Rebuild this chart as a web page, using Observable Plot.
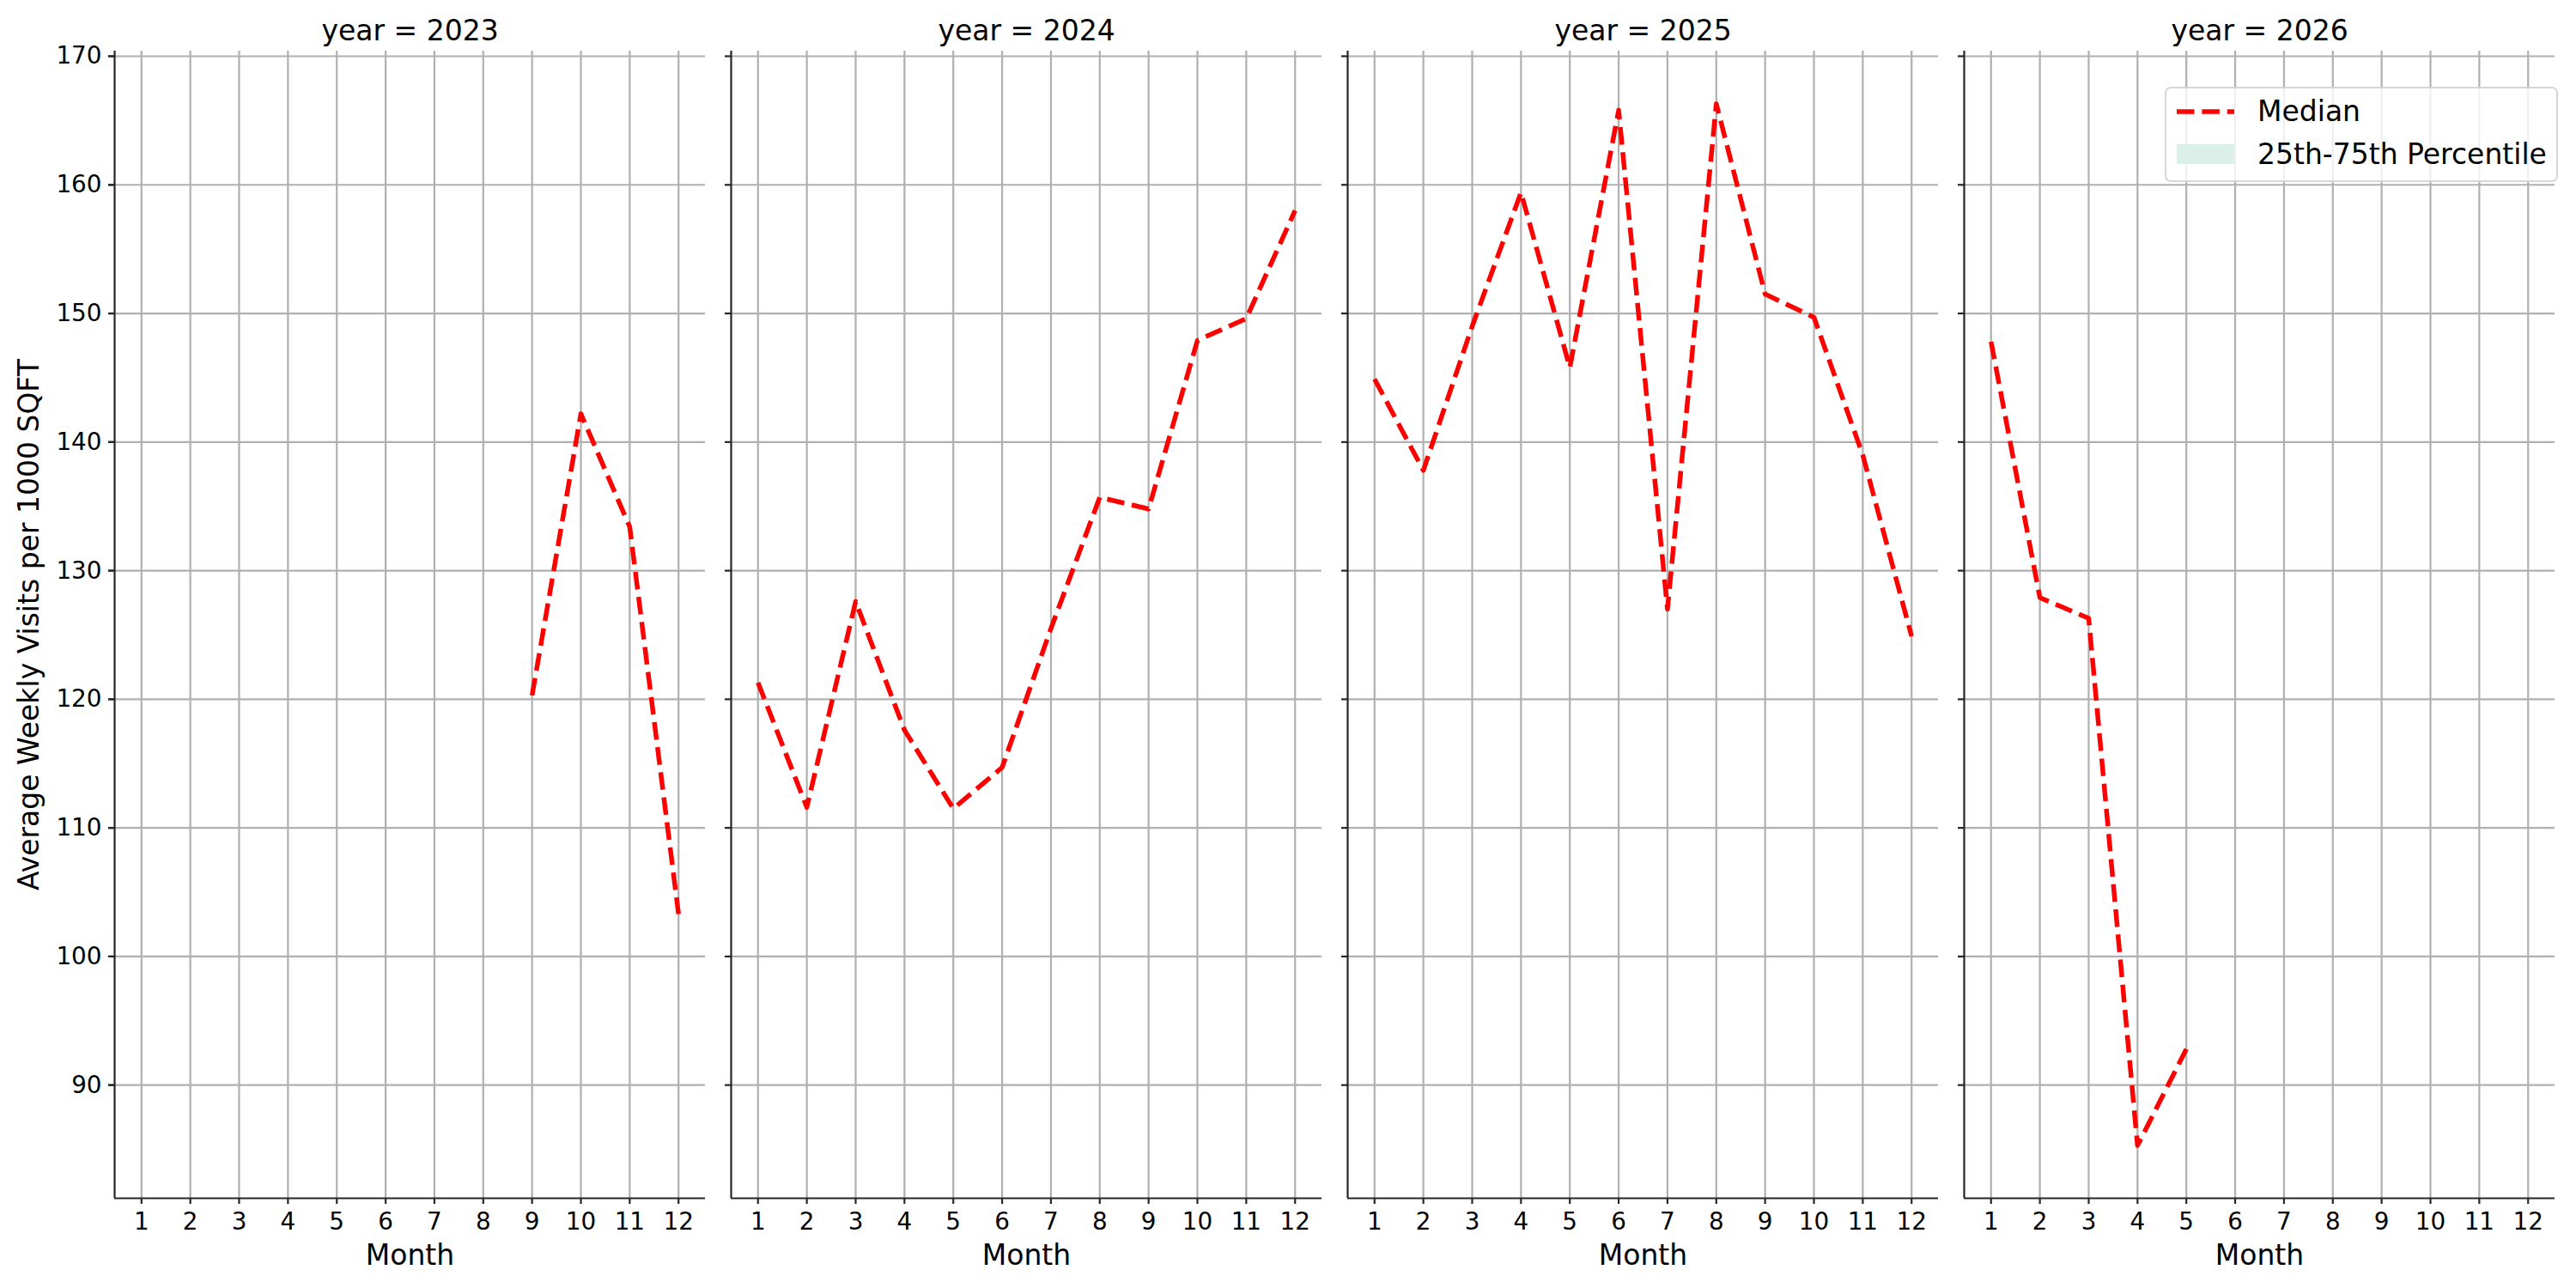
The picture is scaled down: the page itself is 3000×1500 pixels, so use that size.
<!DOCTYPE html>
<html>
<head>
<meta charset="utf-8">
<script src="https://cdn.jsdelivr.net/npm/d3@7"></script>
<script src="https://cdn.jsdelivr.net/npm/@observablehq/plot@0.6"></script>
<style>
  body { margin: 0; background: #fff; }
  #wrap { position: relative; width: 3000px; height: 1500px; font-family: "DejaVu Sans", sans-serif; }
  #legend { position: absolute; left: 2521px; top: 101px; width: 458px; height: 111px; box-sizing: border-box;
            border: 2px solid rgba(204,204,204,0.8); border-radius: 7px; background: rgba(255,255,255,0.8); }
  #legend .lab { position: absolute; left: 106px; font-size: 33px; line-height: 33px; color: #000; white-space: nowrap; }
</style>
</head>
<body>
<div id="wrap"></div>
<script>
// ---- data ----
const years = [2023, 2024, 2025, 2026];
const monthTicks = [1, 2, 3, 4, 5, 6, 7, 8, 9, 10, 11, 12];
const yTicks = [90, 100, 110, 120, 130, 140, 150, 160, 170];

const months2023 = [9, 10, 11, 12];
const median2023 = [120.3, 142.2, 133.4, 103.3];

const months2024 = [1, 2, 3, 4, 5, 6, 7, 8, 9, 10, 11, 12];
const median2024 = [121.3, 111.6, 127.6, 117.6, 111.5, 114.7, 125.5, 135.7, 134.8, 147.9, 149.6, 158.0];

const months2025 = [1, 2, 3, 4, 5, 6, 7, 8, 9, 10, 11, 12];
const median2025 = [144.9, 137.8, 149.0, 159.4, 145.8, 165.8, 127.0, 166.3, 151.5, 149.7, 139.0, 124.9];

const months2026 = [1, 2, 3, 4, 5];
const median2026 = [147.8, 127.9, 126.3, 85.3, 92.8];

const facetTitlePrefix = "year = ";
const xLabel = "Month";
const yLabel = "Average Weekly Visits per 1000 SQFT";
const legendLabels = ["Median", "25th-75th Percentile"];

// ---- build table ----
const series = [
  [2023, months2023, median2023],
  [2024, months2024, median2024],
  [2025, months2025, median2025],
  [2026, months2026, median2026]
];
const rows = series.flatMap(([year, ms, vs]) => ms.map((m, i) => ({year, month: m, value: vs[i]})));

const xDomain = [0.45, 12.55];
const yDomain = [81.2, 170.4];
const ink = "#262626";
const gridColor = "#b0b0b0";

const chart = Plot.plot({
  width: 3000,
  height: 1500,
  marginLeft: 132,
  marginRight: 23,
  marginTop: 59,
  marginBottom: 105,
  style: { fontFamily: "DejaVu Sans, sans-serif", background: "#fff", color: "#000" },
  fx: { domain: years, axis: null, paddingInner: 30 / 719, paddingOuter: 0 },
  x: { domain: xDomain },
  y: { domain: yDomain },
  marks: [
    Plot.gridX(monthTicks, { stroke: gridColor, strokeOpacity: 1, strokeWidth: 2.2 }),
    Plot.gridY(yTicks, { stroke: gridColor, strokeOpacity: 1, strokeWidth: 2.2 }),
    Plot.ruleX([xDomain[0]], { stroke: ink, strokeWidth: 2.2 }),
    Plot.ruleY([yDomain[0]], { stroke: ink, strokeWidth: 2.2 }),
    Plot.axisX({ ticks: monthTicks, tickSize: 7, tickPadding: 10, fontSize: 27.8, label: null, stroke: ink, strokeWidth: 2.2, tickFormat: d => String(d) }),
    Plot.axisY({ ticks: yTicks, tickSize: 7, tickPadding: 8, fontSize: 27.8, label: null, stroke: ink, strokeWidth: 2.2, tickFormat: d => String(d) }),
    Plot.axisY({ ticks: yTicks, tickSize: 7, facetAnchor: null, label: null, stroke: ink, strokeWidth: 2.2, tickFormat: () => "" }),
    Plot.lineY(rows, {
      fx: "year", x: "month", y: "value",
      stroke: "#ff0000", strokeWidth: 5.5, strokeDasharray: "20.5,8.9",
      strokeLinecap: "butt", strokeLinejoin: "round"
    }),
    Plot.text(years, {
      fx: d => d, frameAnchor: "top", dy: -23, lineAnchor: "middle",
      text: d => facetTitlePrefix + d, fontSize: 33, fill: "#000"
    }),
    Plot.text([xLabel], {
      frameAnchor: "bottom", dy: 67, lineAnchor: "middle",
      text: d => d, fontSize: 33, fill: "#000"
    }),
    Plot.text([yLabel], {
      fx: () => years[0], frameAnchor: "left", dx: -99, rotate: -90, lineAnchor: "middle",
      textAnchor: "middle", text: d => d, fontSize: 33, fill: "#000"
    })
  ]
});

const wrap = document.getElementById("wrap");
wrap.appendChild(chart);

// ---- legend (HTML overlay inside the 2026 panel) ----
const legend = document.createElement("div");
legend.id = "legend";
legend.innerHTML = `
  <svg width="100" height="107" style="position:absolute;left:0;top:0;overflow:visible">
    <line x1="12" x2="79" y1="27" y2="27" stroke="#ff0000" stroke-width="5.5" stroke-dasharray="20.5,8.9"/>
    <rect x="12" y="65" width="67" height="23" fill="#dcf0ea"/>
  </svg>
  <div class="lab" style="top:10px">${legendLabels[0]}</div>
  <div class="lab" style="top:60px">${legendLabels[1]}</div>`;
wrap.appendChild(legend);
</script>
</body>
</html>
